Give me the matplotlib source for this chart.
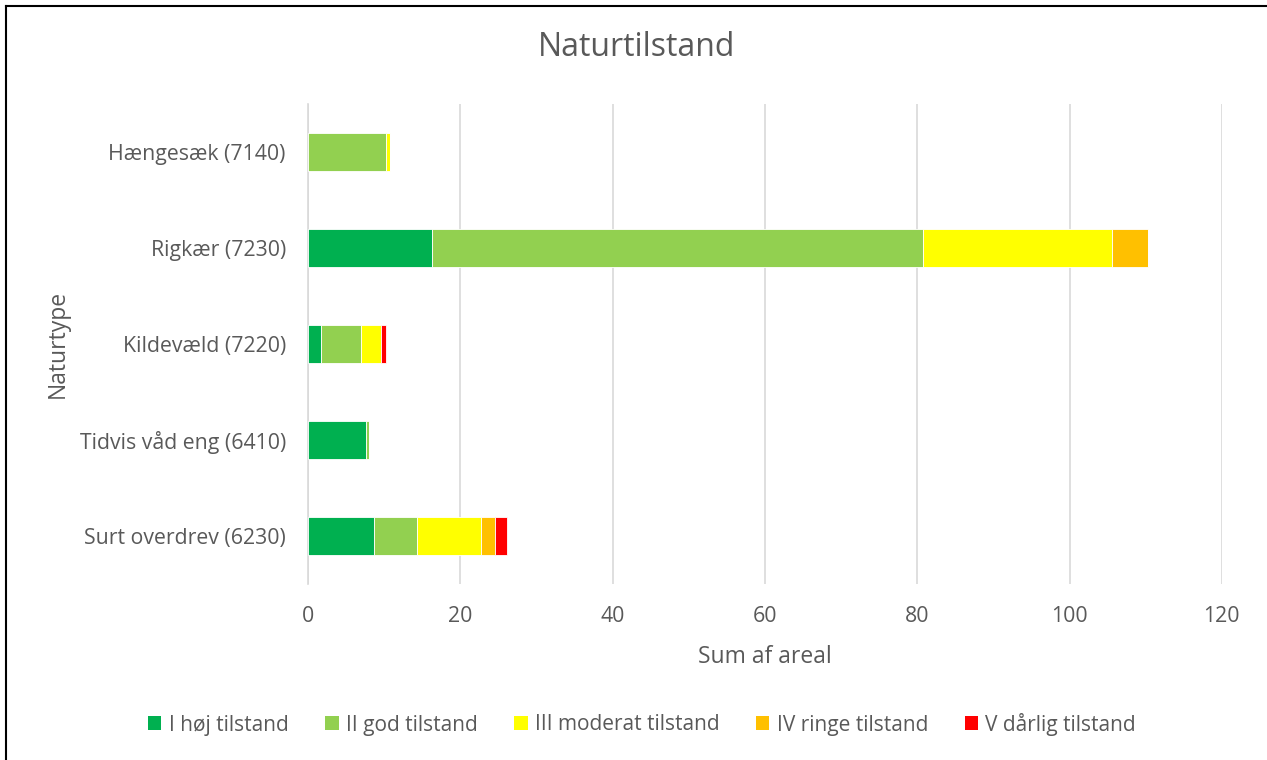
import numpy as np
import matplotlib
matplotlib.use("Agg")
import matplotlib.pyplot as plt
from matplotlib.patches import Patch
from matplotlib.lines import Line2D

plt.rcParams['font.family'] = ['Open Sans', 'DejaVu Sans']

# Data (bottom to top as drawn)
categories = ['Surt overdrev (6230)', 'Tidvis våd eng (6410)', 'Kildevæld (7220)',
              'Rigkær (7230)', 'Hængesæk (7140)']
series_names = ['I høj tilstand', 'II god tilstand', 'III moderat tilstand',
                'IV ringe tilstand', 'V dårlig tilstand']
hoej = [8.7, 7.6, 1.7, 16.3, 0.0]
god = [5.65, 0.35, 5.25, 64.5, 10.2]
moderat = [8.35, 0.0, 2.63, 24.8, 0.55]
ringe = [1.85, 0.0, 0.0, 4.75, 0.0]
daarlig = [1.6, 0.0, 0.6, 0.0, 0.0]
colors = ['#00B050', '#92D050', '#FFFF00', '#FFC000', '#FF0000']

text_col = '#595959'

fig = plt.figure(figsize=(12.67, 7.6), dpi=100)
ax = fig.add_axes([308 / 1267, 176 / 760, 913.8 / 1267, 480 / 760])

y = np.arange(len(categories))
left = np.zeros(len(categories))
for vals, name, c in zip([hoej, god, moderat, ringe, daarlig], series_names, colors):
    vals = np.array(vals)
    ax.barh(y, vals, left=left, height=0.4, color=c, edgecolor='white',
            linewidth=0.6, label=name, zorder=3)
    left += vals

ax.set_xlim(0, 120)
ax.set_ylim(-0.5, len(categories) - 0.5)
ax.set_xticks(np.arange(0, 121, 20))
ax.set_yticks(y)
ax.set_yticklabels(categories)
ax.grid(axis='x', color='#D9D9D9', linewidth=1.2, zorder=0)
for s in ['top', 'right', 'bottom']:
    ax.spines[s].set_visible(False)
ax.spines['left'].set_color('#D9D9D9')
ax.spines['left'].set_linewidth(1.2)
ax.tick_params(axis='both', length=0, labelsize=15.3, colors=text_col)
ax.tick_params(axis='x', pad=16)
ax.tick_params(axis='y', pad=16)

ax.set_xlabel('Sum af areal', fontsize=16.5, color=text_col, labelpad=13)
ax.set_ylabel('Naturtype', fontsize=16.5, color=text_col, labelpad=7)
fig.text(637 / 1267, 1 - 48 / 760, 'Naturtilstand',
         ha='center', va='center', fontsize=23, color=text_col)

handles = [Patch(facecolor=c, edgecolor='none') for c in colors]
fig.legend(handles, series_names, loc='center', bbox_to_anchor=(642 / 1267, 1 - 724 / 760),
           ncol=5, frameon=False, fontsize=15, labelcolor=text_col,
           handlelength=0.65, handleheight=0.65, handletextpad=0.35, columnspacing=1.75)

# outer chart border (left and top edges visible)
fig.add_artist(Line2D([6 / 1267, 6 / 1267], [0, 1 - 6 / 760], transform=fig.transFigure,
                      color='black', linewidth=1.5))
fig.add_artist(Line2D([6 / 1267, 1], [1 - 6 / 760, 1 - 6 / 760], transform=fig.transFigure,
                      color='black', linewidth=1.5))

fig.savefig('out.png', dpi=100, facecolor='white')
